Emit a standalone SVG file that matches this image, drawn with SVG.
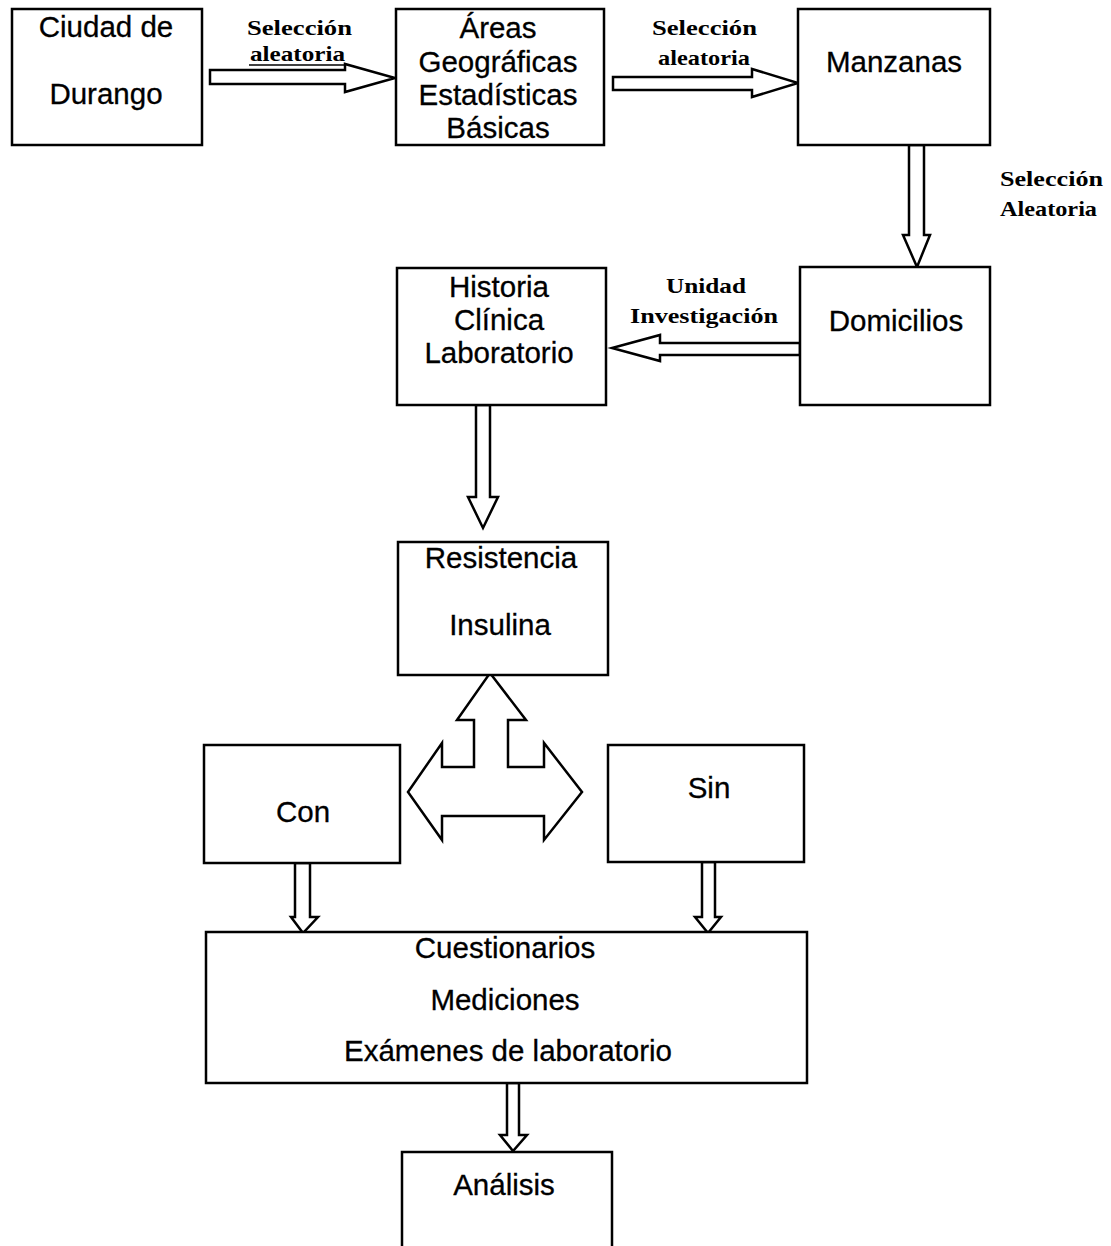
<svg xmlns="http://www.w3.org/2000/svg" width="1111" height="1246" viewBox="0 0 1111 1246">
<style>
.box{fill:#fff;stroke:#000;stroke-width:2.5}
.arr{fill:#fff;stroke:#000;stroke-width:2.5;stroke-linejoin:miter}
.t{font-family:"Liberation Sans",Arial,sans-serif;font-size:29.5px;fill:#000;stroke:#000;stroke-width:0.3;text-anchor:middle}
.s{font-family:"Liberation Serif","Times New Roman",serif;font-size:22px;font-weight:bold;fill:#000}
</style>
<rect width="1111" height="1246" fill="#fff"/>
<g id="connectors">
<path class="arr" d="M210,70 L345,70 L345,64 L395,78 L345,92 L345,84 L210,84 Z"/>
<path class="arr" d="M613,77 L752,77 L752,69 L798,83 L752,97 L752,90 L613,90 Z"/>
<path class="arr" d="M909,145 L924,145 L924,235 L930,235 L917,267 L903,235 L909,235 Z"/>
<path class="arr" d="M800,343 L660,343 L660,335 L612,348 L660,361 L660,355 L800,355 Z"/>
<path class="arr" d="M476,405 L490,405 L490,497 L498,497 L483,528 L468,497 L476,497 Z"/>
<path class="arr" d="M490,673 L526,720 L508,720 L508,767 L544,767 L544,743 L582,792 L544,840 L544,816 L442,816 L442,840 L408,792 L442,743 L442,767 L474,767 L474,720 L457,720 Z"/>
<path class="arr" d="M295,863 L310,863 L310,917 L318,917 L303,933 L291,917 L295,917 Z"/>
<path class="arr" d="M702,862 L715,862 L715,917 L721,917 L708,933 L695,917 L702,917 Z"/>
<path class="arr" d="M507,1083 L519,1083 L519,1135 L527,1135 L513,1151 L500,1135 L507,1135 Z"/>
<line x1="249" y1="65" x2="345" y2="65" stroke="#000" stroke-width="1.5"/>
<text class="s" x="247" y="35" textLength="105" lengthAdjust="spacingAndGlyphs">Selección</text>
<text class="s" x="250" y="61" textLength="95" lengthAdjust="spacingAndGlyphs">aleatoria</text>
<text class="s" x="652" y="35" textLength="105" lengthAdjust="spacingAndGlyphs">Selección</text>
<text class="s" x="658" y="65" textLength="92" lengthAdjust="spacingAndGlyphs">aleatoria</text>
<text class="s" x="1000" y="186" textLength="103" lengthAdjust="spacingAndGlyphs">Selección</text>
<text class="s" x="1000" y="216" textLength="97" lengthAdjust="spacingAndGlyphs">Aleatoria</text>
<text class="s" x="666" y="293" textLength="80" lengthAdjust="spacingAndGlyphs">Unidad</text>
<text class="s" x="630" y="323" textLength="148" lengthAdjust="spacingAndGlyphs">Investigación</text>
</g>
<g id="ciudad"><rect class="box" x="12" y="9" width="190" height="136"/><text class="t" x="106" y="37">Ciudad de</text><text class="t" x="106" y="104">Durango</text></g>
<g id="areas"><rect class="box" x="396" y="9" width="208" height="136"/><text class="t" x="498" y="38">Áreas</text><text class="t" x="498" y="72">Geográficas</text><text class="t" x="498" y="105">Estadísticas</text><text class="t" x="498" y="138">Básicas</text></g>
<g id="manzanas"><rect class="box" x="798" y="9" width="192" height="136"/><text class="t" x="894" y="72">Manzanas</text></g>
<g id="domicilios"><rect class="box" x="800" y="267" width="190" height="138"/><text class="t" x="896" y="331">Domicilios</text></g>
<g id="historia"><rect class="box" x="397" y="268" width="209" height="137"/><text class="t" x="499" y="297">Historia</text><text class="t" x="499" y="330">Clínica</text><text class="t" x="499" y="363">Laboratorio</text></g>
<g id="resistencia"><rect class="box" x="398" y="542" width="210" height="133"/><text class="t" x="501" y="568">Resistencia</text><text class="t" x="500" y="635">Insulina</text></g>
<g id="con"><rect class="box" x="204" y="745" width="196" height="118"/><text class="t" x="303" y="822">Con</text></g>
<g id="sin"><rect class="box" x="608" y="745" width="196" height="117"/><text class="t" x="709" y="798">Sin</text></g>
<g id="cuestionarios"><rect class="box" x="206" y="932" width="601" height="151"/><text class="t" x="505" y="958">Cuestionarios</text><text class="t" x="505" y="1010">Mediciones</text><text class="t" x="508" y="1061">Exámenes de laboratorio</text></g>
<g id="analisis"><rect class="box" x="402" y="1152" width="210" height="110"/><text class="t" x="504" y="1195">Análisis</text></g>
</svg>
